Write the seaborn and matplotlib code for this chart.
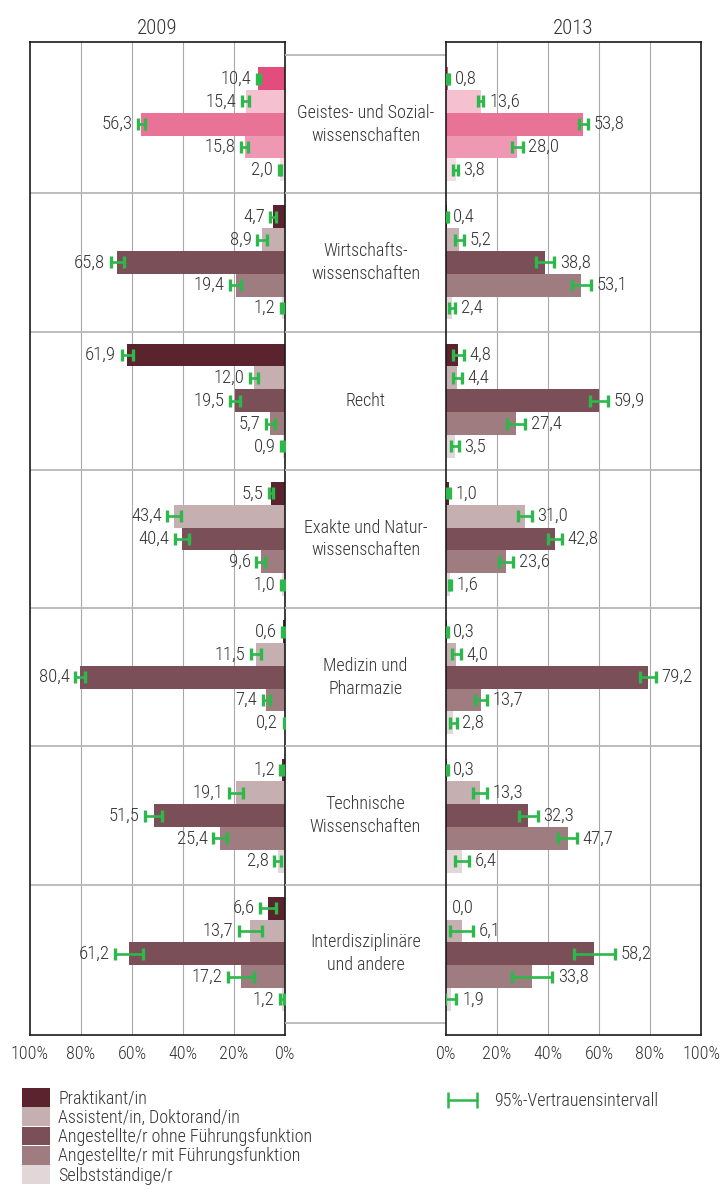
#!/usr/bin/env python3
# -*- coding: utf-8 -*-
"""
Berufliche Stellung nach Fachbereich, 2009 vs. 2013 (Anteile in %, mit 95%-KI).
"""

import matplotlib

matplotlib.use("Agg")
import matplotlib.pyplot as plt
from matplotlib import font_manager
from matplotlib.lines import Line2D
from matplotlib.patches import Patch
import numpy as np
import pandas as pd
import seaborn as sns

# --- data -----------------------------------------------------------------
faecher = [
    "Geistes- und Sozial-\nwissenschaften",
    "Wirtschafts-\nwissenschaften",
    "Recht",
    "Exakte und Natur-\nwissenschaften",
    "Medizin und\nPharmazie",
    "Technische\nWissenschaften",
    "Interdisziplinäre\nund andere",
]
positionen = [
    "Praktikant/in",
    "Assistent/in, Doktorand/in",
    "Angestellte/r ohne Führungsfunktion",
    "Angestellte/r mit Führungsfunktion",
    "Selbstständige/r",
]

werte_2009 = [
    [10.4, 15.4, 56.3, 15.8, 2.0],
    [4.7, 8.9, 65.8, 19.4, 1.2],
    [61.9, 12.0, 19.5, 5.7, 0.9],
    [5.5, 43.4, 40.4, 9.6, 1.0],
    [0.6, 11.5, 80.4, 7.4, 0.2],
    [1.2, 19.1, 51.5, 25.4, 2.8],
    [6.6, 13.7, 61.2, 17.2, 1.2],
]
werte_2013 = [
    [0.8, 13.6, 53.8, 28.0, 3.8],
    [0.4, 5.2, 38.8, 53.1, 2.4],
    [4.8, 4.4, 59.9, 27.4, 3.5],
    [1.0, 31.0, 42.8, 23.6, 1.6],
    [0.3, 4.0, 79.2, 13.7, 2.8],
    [0.3, 13.3, 32.3, 47.7, 6.4],
    [0.0, 6.1, 58.2, 33.8, 1.9],
]
# half width of the 95% confidence interval (percentage points)
ki_2009 = [
    [0.5, 1.3, 1.3, 1.3, 0.5],
    [1.0, 2.0, 2.5, 2.0, 0.5],
    [2.2, 1.6, 2.0, 1.6, 0.5],
    [0.9, 2.7, 2.7, 1.6, 0.5],
    [0.4, 2.0, 1.8, 1.4, 0.3],
    [0.6, 2.7, 3.4, 2.7, 1.4],
    [3.2, 4.5, 5.4, 5.0, 0.8],
]
ki_2013 = [
    [0.4, 1.1, 1.8, 2.0, 0.9],
    [0.3, 1.8, 3.6, 3.6, 1.3],
    [2.2, 1.8, 3.6, 3.6, 1.6],
    [0.5, 2.7, 2.7, 2.7, 0.5],
    [0.3, 1.8, 3.2, 2.2, 1.4],
    [0.4, 2.9, 3.6, 3.6, 2.7],
    [0.0, 4.5, 8.0, 7.8, 2.2],
]

farben = ["#5A232D", "#C6AFB1", "#7A4F57", "#9F7C80", "#E2D6D8"]
farben_pink = ["#E34D7E", "#F5C1D0", "#E97397", "#EE98B3", "#F8DCE4"]
GRUEN = "#2DB84B"
TEXT = "#333333"

sns.set_style("white")
_installed = {f.name for f in font_manager.fontManager.ttflist}
FONT = "DejaVu Sans"
for cand in ["Roboto Condensed", "Liberation Sans Narrow", "Roboto"]:
    if cand in _installed:
        FONT = cand
        break
plt.rcParams["font.family"] = [FONT, "DejaVu Sans"]
plt.rcParams["font.weight"] = "light"


def long_df(werte):
    rows = []
    for fach, vals in zip(faecher, werte):
        for pos, v in zip(positionen, vals):
            rows.append({"Fach": fach, "Position": pos, "Anteil": v})
    return pd.DataFrame(rows)


def fmt(v):
    return f"{v:.1f}".replace(".", ",")


def draw_panel(ax, werte, ki, links):
    df = long_df(werte)
    sns.barplot(
        data=df,
        x="Anteil",
        y="Fach",
        hue="Position",
        order=faecher,
        hue_order=positionen,
        palette=farben,
        saturation=1,
        orient="h",
        width=0.825,
        errorbar=None,
        linewidth=0,
        legend=False,
        ax=ax,
    )
    hex_farben = [c.lower() for c in farben]
    for p in list(ax.patches):
        cy = p.get_y() + p.get_height() / 2
        cat = int(round(cy))
        col = matplotlib.colors.to_hex(p.get_facecolor()).lower()
        if col not in hex_farben:
            continue
        h = hex_farben.index(col)
        v = werte[cat][h]
        e = ki[cat][h]
        # first subject is highlighted in pink
        if cat == 0:
            p.set_facecolor(farben_pink[h])
        if e > 0:
            ax.errorbar(
                v, cy, xerr=e, color=GRUEN, lw=1.9, capsize=4.5,
                capthick=2.4, zorder=4,
            )
        off = -4 if links else 4
        ax.annotate(
            fmt(v), xy=(v + e, cy), xytext=(off, 0), textcoords="offset points",
            ha="right" if links else "left", va="center", fontsize=13.5,
            color=TEXT, zorder=5,
        )

    ax.set_xlim((100, 0) if links else (0, 100))
    ax.set_ylim(6.587, -0.594)
    ticks = np.arange(0, 101, 20)
    ax.set_xticks(ticks)
    ax.set_xticklabels([f"{t}%" for t in ticks], fontsize=13, color=TEXT)
    ax.tick_params(axis="x", length=0, pad=7)
    ax.set_yticks([])
    ax.set_xlabel("")
    ax.set_ylabel("")
    for t in ticks[1:-1]:
        ax.axvline(t, color="#a8a8a8", lw=0.8, zorder=0)
    for b in np.arange(0.5, 6.0, 1.0):
        ax.axhline(b, color="#b8b8b8", lw=1.3, zorder=0)
    for s in ax.spines.values():
        s.set_visible(True)
        s.set_color("#1a1a1a")
        s.set_linewidth(1.2)


fig = plt.figure(figsize=(7.21, 11.96), dpi=100)
W, H = 721, 1196
bottom = (H - 1035) / H
height = 993 / H
ax_l = fig.add_axes([30 / W, bottom, 255 / W, height])
ax_m = fig.add_axes([285 / W, bottom, 161 / W, height])
ax_r = fig.add_axes([446 / W, bottom, 255 / W, height])

draw_panel(ax_l, werte_2009, ki_2009, links=True)
draw_panel(ax_r, werte_2013, ki_2013, links=False)
ax_l.set_title("2009", fontsize=15, color=TEXT, pad=6, fontweight="light")
ax_r.set_title("2013", fontsize=15, color=TEXT, pad=6, fontweight="light")

# middle column with subject names
ax_m.set_xlim(0, 1)
ax_m.set_ylim(6.587, -0.594)
ax_m.axis("off")
for b in np.arange(-0.5, 7.0, 1.0):
    ax_m.axhline(b, color="#b8b8b8", lw=1.3, zorder=0)
for i, fach in enumerate(faecher):
    ax_m.text(0.5, i, fach, ha="center", va="center", fontsize=13,
              color=TEXT, linespacing=1.35)

# legends
fs = 13
handles = [Patch(facecolor=c, edgecolor="none", label=l)
           for c, l in zip(farben, positionen)]
fig.legend(
    handles=handles, loc="upper left", bbox_to_anchor=(22 / W, 1 - 1088 / H),
    frameon=False, fontsize=fs, labelspacing=0, handleheight=1.2,
    handlelength=1.55, handletextpad=0.45, borderpad=0, borderaxespad=0,
    labelcolor=TEXT,
)
ki_handle = Line2D([], [], color=GRUEN, lw=1.8, marker="|", markersize=11,
                   markeredgewidth=1.8, label="95%-Vertrauensintervall")
fig.legend(
    handles=[ki_handle], loc="upper left", bbox_to_anchor=(443 / W, 1 - 1092 / H),
    frameon=False, fontsize=fs, numpoints=2, handlelength=2.17,
    handletextpad=0.67, borderpad=0, borderaxespad=0, labelcolor=TEXT,
)

fig.savefig("out.png", dpi=100)
plt.close(fig)
print("saved out.png")
